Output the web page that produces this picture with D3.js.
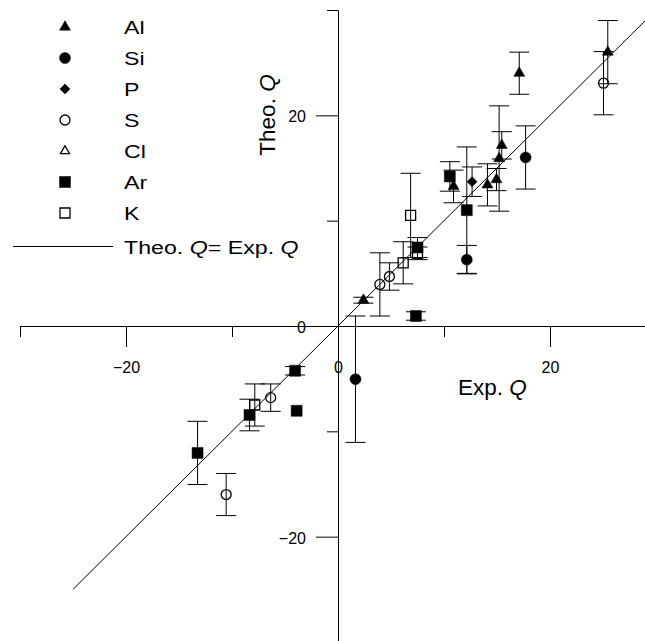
<!DOCTYPE html>
<html>
<head>
<meta charset="utf-8">
<script src="https://cdn.jsdelivr.net/npm/d3@7"></script>
<style>
    body { margin: 0; background: #fff; }
    text { font-family: "Liberation Sans", Arial, sans-serif; fill: #000; }
</style>
</head>
<body>
<script>
// [exp Q, theo Q, error]
const AL = [
    [2.4, 2.45, 0.28],
    [10.9, 13.25, 1.55],
    [14.1, 13.4, 2.0],
    [14.95, 13.9, 1.05],
    [15.2, 15.9, 5.0],
    [15.45, 17.15, 1.3],
    [17.1, 24.0, 2.0],
    [25.45, 26.0, 3.0]
];
const SI = [
    [12.15, 6.3, 1.35],
    [17.7, 16.0, 3.0],
    [1.65, -5.05, 6.0]
];
const P = [
    [12.65, 13.7, 1.4]
];
const S = [
    [3.95, 3.95, 3.0],
    [4.85, 4.7, 1.3],
    [25.05, 23.05, 3.0],
    [-6.35, -6.8, 1.3],
    [-10.55, -16.0, 2.0]
];
const CL = [];
const AR = [
    [10.55, 14.2, 1.4],
    [12.15, 11.0, 6.0],
    [7.5, 7.45, 0.95],
    [7.35, 0.95, 0.4],
    [-4.05, -4.25, 0.4],
    [-3.9, -8.05, 0],
    [-8.35, -8.45, 1.5],
    [-13.25, -12.05, 3.0]
];
const K = [
    [6.85, 10.5, 4.0],
    [7.5, 6.9, 0.6],
    [6.15, 6.0, 2.0],
    [-7.85, -7.5, 2.0]
];

const LABELS = ["Al", "Si", "P", "S", "Cl", "Ar", "K"];
const MAJOR_TICKS = [-20, 0, 20];
const MINOR_TICKS = [-30, -10, 10, 30];
const DIAGONAL = [-25, 29];

const width = 645, height = 641;

const x = d3.scaleLinear().domain([-30, 30]).range([20, 656]);
const y = d3.scaleLinear().domain([-30, 30]).range([642, 10]);

// marker styles per element
const styles = [
    { type: d3.symbolTriangle, size: 52, fill: "#000", rot: 0 },
    { type: d3.symbolCircle, size: 95, fill: "#000", rot: 0 },
    { type: d3.symbolSquare, size: 50, fill: "#000", rot: 45 },
    { type: d3.symbolCircle, size: 78, fill: "none", rot: 0 },
    { type: d3.symbolTriangle, size: 36, fill: "none", rot: 0 },
    { type: d3.symbolSquare, size: 121, fill: "#000", rot: 0 },
    { type: d3.symbolSquare, size: 100, fill: "none", rot: 0 }
];
const series = [AL, SI, P, S, CL, AR, K];

const svg = d3.select("body").append("svg")
    .attr("width", width)
    .attr("height", height);

// axes
const xMajor = d3.axisBottom(x).tickValues(MAJOR_TICKS).tickSize(21).tickSizeOuter(0).tickPadding(15);
const xMinor = d3.axisBottom(x).tickValues(MINOR_TICKS).tickSize(11).tickSizeOuter(0).tickFormat("");
const yMajor = d3.axisLeft(y).tickValues(MAJOR_TICKS).tickSize(22).tickSizeOuter(0).tickPadding(10);
const yMinor = d3.axisLeft(y).tickValues(MINOR_TICKS).tickSize(11).tickSizeOuter(0).tickFormat("");

const styleAxis = g => {
    g.selectAll("path, line").attr("stroke", "#000").attr("stroke-width", 1);
    g.selectAll("text").attr("font-size", 16).attr("font-family", null);
};

svg.append("g").attr("transform", `translate(0,${y(0)})`).call(xMinor).call(styleAxis);
svg.append("g").attr("transform", `translate(0,${y(0)})`).call(xMajor).call(styleAxis);
svg.append("g").attr("transform", `translate(${x(0)},0)`).call(yMinor).call(styleAxis);
svg.append("g").attr("transform", `translate(${x(0)},0)`).call(yMajor).call(styleAxis)
    .selectAll("text").attr("dy", "0.4em");

// axis titles
svg.append("text")
    .attr("x", 458).attr("y", 395)
    .attr("font-size", 22.5)
    .call(t => {
        t.append("tspan").text("Exp. ");
        t.append("tspan").attr("font-style", "italic").text("Q");
    });
svg.append("text")
    .attr("transform", "translate(275,115) rotate(-90)")
    .attr("text-anchor", "middle")
    .attr("font-size", 22.5)
    .call(t => {
        t.append("tspan").text("Theo. ");
        t.append("tspan").attr("font-style", "italic").text("Q");
    });

// theo = exp line
svg.append("line")
    .attr("x1", x(DIAGONAL[0])).attr("y1", y(DIAGONAL[0]))
    .attr("x2", x(DIAGONAL[1])).attr("y2", y(DIAGONAL[1]))
    .attr("stroke", "#000").attr("stroke-width", 1);

// error bars
const bars = svg.append("g").attr("stroke", "#000").attr("stroke-width", 1);
series.forEach(data => {
    data.filter(d => d[2] > 0).forEach(d => {
        const cx = x(d[0]);
        bars.append("line").attr("x1", cx).attr("x2", cx).attr("y1", y(d[1] - d[2])).attr("y2", y(d[1] + d[2]));
        [d[1] - d[2], d[1] + d[2]].forEach(v => {
            bars.append("line").attr("x1", cx - 10).attr("x2", cx + 10).attr("y1", y(v)).attr("y2", y(v));
        });
    });
});

// markers
const drawMarker = (g, st, px, py) => {
    g.append("path")
        .attr("d", d3.symbol().type(st.type).size(st.size)())
        .attr("transform", `translate(${px},${py}) rotate(${st.rot})`)
        .attr("fill", st.fill)
        .attr("stroke", "#000")
        .attr("stroke-width", st.fill === "none" ? 1.3 : 0.5);
};
const marks = svg.append("g");
series.forEach((data, i) => {
    data.forEach(d => drawMarker(marks, styles[i], x(d[0]), y(d[1])));
});

// legend
const legend = svg.append("g");
LABELS.forEach((label, i) => {
    const ly = 27 + i * 31;
    drawMarker(legend, styles[i], 65, ly);
    legend.append("text")
        .attr("transform", `translate(124,${ly + 7}) scale(1.22,1)`)
        .attr("font-size", 19)
        .text(label);
});
legend.append("line")
    .attr("x1", 13).attr("x2", 113)
    .attr("y1", 246.5).attr("y2", 246.5)
    .attr("stroke", "#000").attr("stroke-width", 1);
legend.append("text")
    .attr("transform", "translate(124,254) scale(1.22,1)")
    .attr("font-size", 19)
    .call(t => {
        t.append("tspan").text("Theo. ");
        t.append("tspan").attr("font-style", "italic").text("Q");
        t.append("tspan").text("= Exp. ");
        t.append("tspan").attr("font-style", "italic").text("Q");
    });
</script>
</body>
</html>
